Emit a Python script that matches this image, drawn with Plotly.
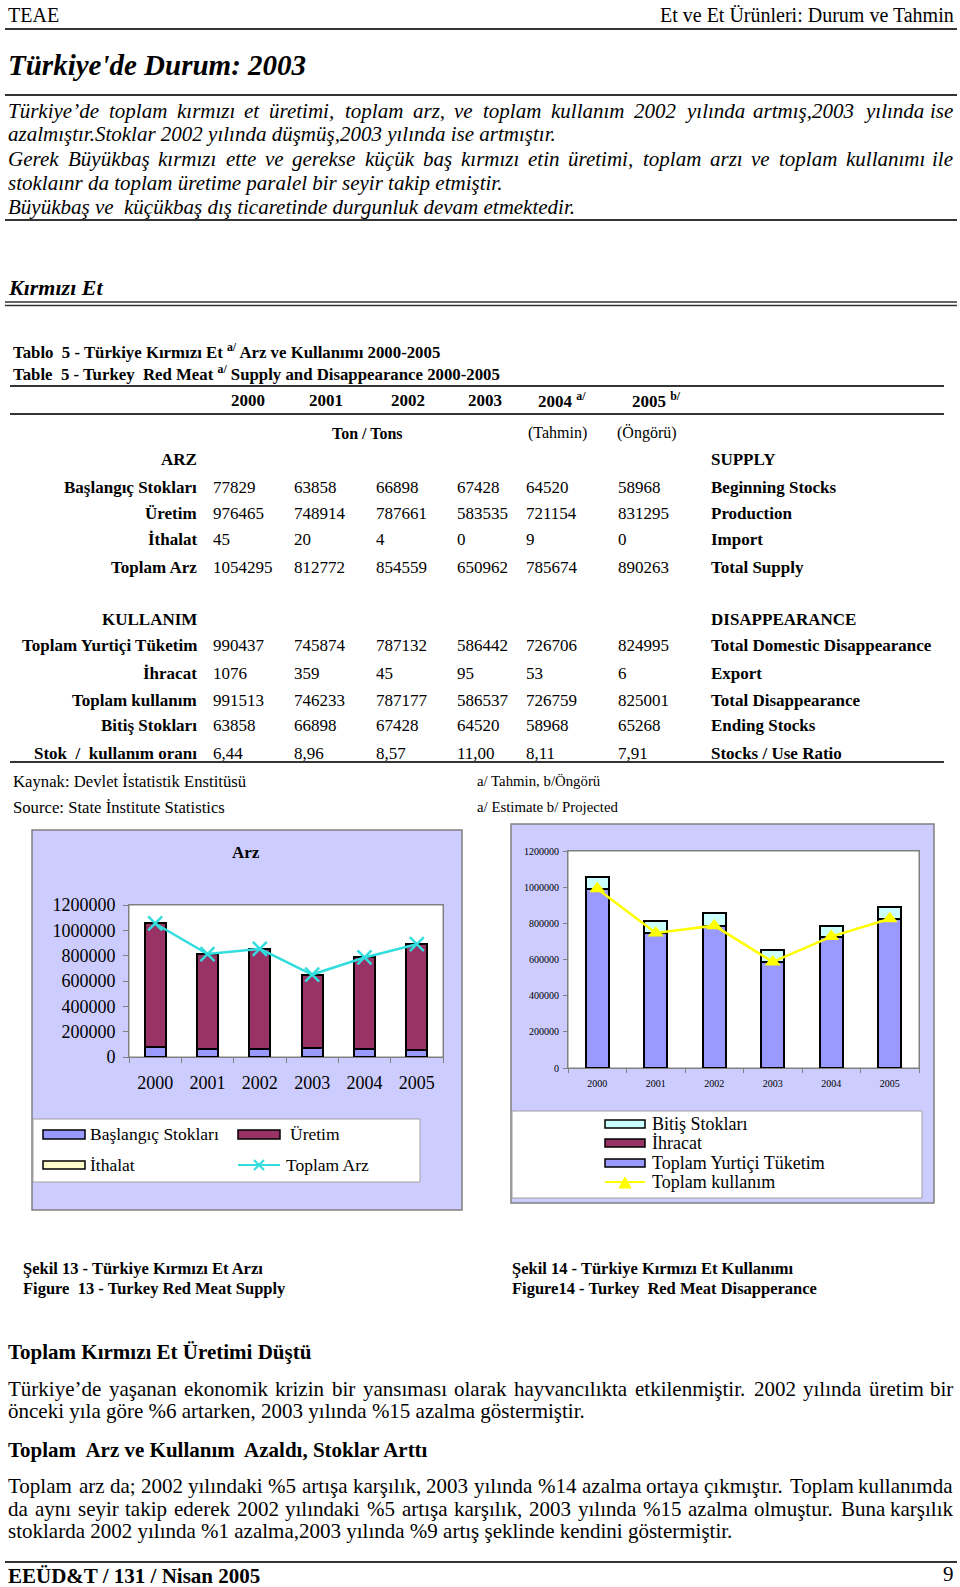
import plotly.graph_objects as go

W, H = 960, 1587
FONT = "Liberation Serif"

# ---------------- data ----------------
years = ["2000", "2001", "2002", "2003", "2004", "2005"]
baslangic = [77829, 63858, 66898, 67428, 64520, 58968]
uretim = [976465, 748914, 787661, 583535, 721154, 831295]
ithalat = [45, 20, 4, 0, 9, 0]
toplam_arz = [1054295, 812772, 854559, 650962, 785674, 890263]
yurtici = [990437, 745874, 787132, 586442, 726706, 824995]
ihracat = [1076, 359, 45, 95, 53, 6]
toplam_kullanim = [991513, 746233, 787177, 586537, 726759, 825001]
bitis = [63858, 66898, 67428, 64520, 58968, 65268]
oran = ["6,44", "8,96", "8,57", "11,00", "8,11", "7,91"]

C_LAV = "#9999FF"
C_MAR = "#993366"
C_YEL = "#FFFFCC"
C_CYN = "#CCFFFF"
C_BG = "#CCCCFF"
C_ARZ = "#33DDDD"
C_KUL = "#FFFF00"


def px(x):
    return x / W


def py(y):
    return 1 - y / H


fig = go.Figure()

bar_line = dict(color="black", width=2)
# Chart 1 (Arz)
fig.add_trace(go.Bar(x=years, y=baslangic, name="Başlangıç Stokları",
                     marker=dict(color=C_LAV, line=bar_line), xaxis="x", yaxis="y"))
fig.add_trace(go.Bar(x=years, y=uretim, name="Üretim",
                     marker=dict(color=C_MAR, line=bar_line), xaxis="x", yaxis="y"))
fig.add_trace(go.Bar(x=years, y=ithalat, name="İthalat",
                     marker=dict(color=C_YEL, line=bar_line), xaxis="x", yaxis="y"))
fig.add_trace(go.Scatter(x=years, y=toplam_arz, name="Toplam Arz", mode="lines+markers",
                         line=dict(color=C_ARZ, width=2.5),
                         marker=dict(symbol="x-thin", size=14, line=dict(color=C_ARZ, width=2.5)),
                         xaxis="x", yaxis="y"))
# Chart 2 (Kullanım)
fig.add_trace(go.Bar(x=years, y=yurtici, name="Toplam Yurtiçi Tüketim",
                     marker=dict(color=C_LAV, line=bar_line), xaxis="x2", yaxis="y2"))
fig.add_trace(go.Bar(x=years, y=ihracat, name="İhracat",
                     marker=dict(color=C_MAR, line=bar_line), xaxis="x2", yaxis="y2"))
fig.add_trace(go.Bar(x=years, y=bitis, name="Bitiş Stokları",
                     marker=dict(color=C_CYN, line=bar_line), xaxis="x2", yaxis="y2"))
fig.add_trace(go.Scatter(x=years, y=toplam_kullanim, name="Toplam kullanım", mode="lines+markers",
                         line=dict(color=C_KUL, width=2.5),
                         marker=dict(symbol="triangle-up", size=14, color=C_KUL),
                         xaxis="x2", yaxis="y2"))

ann = []
shapes = []


def T(x, y, s, size=17, b=False, i=False, anchor="left"):
    if b:
        s = "<b>" + s + "</b>"
    if i:
        s = "<i>" + s + "</i>"
    ann.append(dict(x=px(x), y=py(y), xref="paper", yref="paper", text=s, showarrow=False,
                    xanchor=anchor, yanchor="middle", borderpad=0,
                    font=dict(family=FONT, size=size, color="black")))


# approximate Times glyph widths (per 1000 em) used to spread words on justified lines
ROMAN = {" ": 250, "a": 444, "b": 500, "c": 444, "d": 500, "e": 444, "f": 333, "g": 500,
         "h": 500, "i": 278, "j": 278, "k": 500, "l": 278, "m": 778, "n": 500, "o": 500,
         "p": 500, "q": 500, "r": 333, "s": 389, "t": 278, "u": 500, "v": 500, "w": 722,
         "x": 500, "y": 500, "z": 444, "ı": 278, "ş": 389, "ç": 444, "ğ": 500, "ü": 500,
         "ö": 500, "A": 722, "B": 667, "G": 722, "T": 611, "K": 722, "İ": 333, "Ü": 722,
         ".": 250, ",": 250, ";": 278, ":": 278, "%": 833, "’": 333, "'": 180}
ITALIC = {" ": 250, "a": 500, "b": 500, "c": 444, "d": 500, "e": 444, "f": 278, "g": 500,
          "h": 500, "i": 278, "j": 278, "k": 444, "l": 278, "m": 722, "n": 500, "o": 500,
          "p": 500, "q": 500, "r": 389, "s": 389, "t": 278, "u": 500, "v": 444, "w": 667,
          "x": 444, "y": 444, "z": 389, "ı": 278, "ş": 389, "ç": 444, "ğ": 500, "ü": 500,
          "ö": 500, "G": 722, "B": 611, "T": 556, "K": 667, ".": 250, ",": 250, "’": 333,
          "'": 214}


def wid(word, size, table):
    return sum(table.get(ch, 500) for ch in word) * size / 1000.0


def J(x0, x1, y, s, size, i=False):
    table = ITALIC if i else ROMAN
    words = s.split()
    ws = [wid(w, size, table) for w in words]
    gap = (x1 - x0 - sum(ws)) / (len(words) - 1)
    x = x0
    for k, w in enumerate(words):
        if k == len(words) - 1:
            T(x1, y, w, size, i=i, anchor="right")
        else:
            T(x, y, w, size, i=i)
        x += ws[k] + gap


def L(x0, y0, x1, y1, w=2, c="#333333"):
    shapes.append(dict(type="line", xref="paper", yref="paper", x0=px(x0), y0=py(y0),
                       x1=px(x1), y1=py(y1), line=dict(color=c, width=w)))


def R(x0, y0, x1, y1, fill, lc="#808080", lw=1.5, layer="below"):
    shapes.append(dict(type="rect", xref="paper", yref="paper", x0=px(x0), y0=py(y0),
                       x1=px(x1), y1=py(y1), fillcolor=fill, line=dict(color=lc, width=lw),
                       layer=layer))


def P(path_pts, color, fill=None, w=2):
    d = "M " + " L ".join(f"{px(a)},{py(b)}" for a, b in path_pts)
    if fill:
        d += " Z"
    shapes.append(dict(type="path", xref="paper", yref="paper", path=d,
                       line=dict(color=color, width=w), fillcolor=fill if fill else None))


# ---------------- page header ----------------
T(7, 15, "TEAE", 20)
T(955, 15, "Et ve Et Ürünleri: Durum ve Tahmin", 20, anchor="right")
L(5, 29, 957, 29)
T(7, 65, "Türkiye'de Durum: 2003", 29, b=True, i=True)
L(5, 95, 957, 95)
J(7, 954, 111, "Türkiye’de toplam kırmızı et üretimi, toplam arz, ve toplam kullanım 2002 yılında artmış,2003 yılında ise", 21, i=True)
T(7, 134, "azalmıştır.Stoklar 2002 yılında düşmüş,2003 yılında ise artmıştır.", 21, i=True)
J(7, 954, 159, "Gerek Büyükbaş kırmızı ette ve gerekse küçük baş kırmızı etin üretimi, toplam arzı ve toplam kullanımı ile", 21, i=True)
T(7, 183, "stoklaınr da toplam üretime paralel bir seyir takip etmiştir.", 21, i=True)
T(7, 207, "Büyükbaş ve  küçükbaş dış ticaretinde durgunluk devam etmektedir.", 21, i=True)
L(5, 220, 957, 220)

T(7, 287, "Kırmızı Et", 22, b=True, i=True)
L(5, 302, 957, 302, w=1.5)
L(5, 305.5, 957, 305.5, w=1.5)

# ---------------- table ----------------
T(12, 351, "Tablo  5 - Türkiye Kırmızı Et <sup>a/</sup> Arz ve Kullanımı 2000-2005", 16.8, b=True)
T(12, 374, "Table  5 - Turkey  Red Meat <sup>a/</sup> Supply and Disappearance 2000-2005", 16.8, b=True)
L(10, 386, 944, 386)
year_x = [248, 326, 408, 485, 537, 631]
year_lbl = [years[0], years[1], years[2], years[3], years[4] + " <sup>a/</sup>", years[5] + " <sup>b/</sup>"]
for xx, yl in zip(year_x, year_lbl):
    T(xx, 400, yl, 17, b=True, anchor="center" if "sup" not in yl else "left")
L(10, 414, 944, 414)
T(367, 433, "Ton / Tons", 16, b=True, anchor="center")
T(557, 433, "(Tahmin)", 16, anchor="center")
T(647, 433, "(Öngörü)", 16, anchor="center")

col_x = [212, 293, 375, 456, 525, 617]
LBL_R = 198
ENG_X = 710


def row(y, tr, en, vals):
    T(LBL_R, y, tr, 17, b=True, anchor="right")
    T(ENG_X, y, en, 17, b=True)
    if vals is not None:
        for xx, v in zip(col_x, vals):
            T(xx, y, str(v), 17)


row(459, "ARZ", "SUPPLY", None)
row(487, "Başlangıç Stokları", "Beginning Stocks", baslangic)
row(513, "Üretim", "Production", uretim)
row(540, "İthalat", "Import", ithalat)
row(567, "Toplam Arz", "Total Supply", toplam_arz)
row(619, "KULLANIM", "DISAPPEARANCE", None)
row(646, "Toplam Yurtiçi Tüketim", "Total Domestic Disappearance", yurtici)
row(673, "İhracat", "Export", ihracat)
row(700, "Toplam kullanım", "Total Disappearance", toplam_kullanim)
row(726, "Bitiş Stokları", "Ending Stocks", bitis)
row(753, "Stok  /  kullanım oranı", "Stocks / Use Ratio", oran)
L(10, 762, 944, 762)
T(12, 781, "Kaynak: Devlet İstatistik Enstitüsü", 16.7)
T(12, 807, "Source: State İnstitute Statistics", 16.7)
T(476, 781, "a/ Tahmin, b/Öngörü", 14.8)
T(476, 807, "a/ Estimate b/ Projected", 14.8)

# ---------------- chart frames ----------------
R(32, 830, 462, 1210, C_BG)
R(129, 905, 443, 1057, "white", lc="#808080", lw=1)
R(33, 1119, 420, 1182, "white", lc="#A0A0A0", lw=1)
R(511, 824, 934, 1203, C_BG)
R(568, 851, 919, 1068, "white", lc="#808080", lw=1)
R(512, 1111, 922, 1198, "white", lc="#A0A0A0", lw=1)

T(246, 852, "Arz", 17, b=True, anchor="center")

# legend chart 1
R(43, 1130, 85, 1139, C_LAV, lc="black", lw=1.5, layer="above")
T(89, 1134, "Başlangıç Stokları", 17.5)
R(238, 1130, 280, 1139, C_MAR, lc="black", lw=1.5, layer="above")
T(289, 1134, "Üretim", 17.5)
R(43, 1161, 85, 1169, C_YEL, lc="black", lw=1.5, layer="above")
T(89, 1165, "İthalat", 17.5)
L(238, 1165, 280, 1165, w=2, c=C_ARZ)
L(254, 1160, 264, 1170, w=2, c=C_ARZ)
L(254, 1170, 264, 1160, w=2, c=C_ARZ)
T(285, 1165, "Toplam Arz", 17.5)

# legend chart 2
R(605, 1120, 645, 1128, C_CYN, lc="black", lw=1.5, layer="above")
T(651, 1124, "Bitiş Stokları", 18)
R(605, 1139, 645, 1147, C_MAR, lc="black", lw=1.5, layer="above")
T(651, 1143, "İhracat", 18)
R(605, 1159, 645, 1167, C_LAV, lc="black", lw=1.5, layer="above")
T(651, 1163, "Toplam Yurtiçi Tüketim", 18)
L(605, 1182, 645, 1182, w=2, c=C_KUL)
P([(619, 1188), (625, 1177), (631, 1188)], C_KUL, fill=C_KUL, w=1)
T(651, 1182, "Toplam kullanım", 18)

# captions
T(22, 1268, "Şekil 13 - Türkiye Kırmızı Et Arzı", 16.5, b=True)
T(22, 1288, "Figure  13 - Turkey Red Meat Supply", 16.5, b=True)
T(511, 1268, "Şekil 14 - Türkiye Kırmızı Et Kullanımı", 16.5, b=True)
T(511, 1288, "Figure14 - Turkey  Red Meat Disapperance", 16.5, b=True)

# ---------------- bottom text ----------------
T(7, 1352, "Toplam Kırmızı Et Üretimi Düştü", 21, b=True)
J(7, 954, 1389, "Türkiye’de yaşanan ekonomik krizin bir yansıması olarak hayvancılıkta etkilenmiştir. 2002 yılında üretim bir", 21)
T(7, 1411, "önceki yıla göre %6 artarken, 2003 yılında %15 azalma göstermiştir.", 21)
T(7, 1450, "Toplam  Arz ve Kullanım  Azaldı, Stoklar Arttı", 21, b=True)
J(7, 954, 1486, "Toplam arz da; 2002 yılındaki %5 artışa karşılık, 2003 yılında %14 azalma ortaya çıkmıştır. Toplam kullanımda", 21)
J(7, 954, 1509, "da aynı seyir takip ederek  2002 yılındaki %5 artışa karşılık, 2003 yılında %15 azalma olmuştur. Buna karşılık", 21)
T(7, 1531, "stoklarda 2002 yılında %1 azalma,2003 yılında %9 artış şeklinde kendini göstermiştir.", 21)
L(5, 1562, 957, 1562)
T(7, 1576, "EEÜD&T / 131 / Nisan 2005", 21, b=True)
T(955, 1574, "9", 21, anchor="right")

axis_common = dict(type="category", showline=True, linecolor="#808080", linewidth=1, mirror=True,
                   ticks="outside", tickson="boundaries", tickcolor="#808080", showgrid=False,
                   fixedrange=True, automargin=False)
yaxis_common = dict(range=[0, 1200000], dtick=200000, tickformat="d", showline=True,
                    linecolor="#808080", linewidth=1, mirror=True, ticks="outside",
                    tickcolor="#808080", showgrid=False, zeroline=False, fixedrange=True,
                    automargin=False)

fig.update_layout(
    width=W, height=H, autosize=False,
    margin=dict(l=0, r=0, t=0, b=0, pad=0, autoexpand=False),
    paper_bgcolor="white", plot_bgcolor="white",
    barmode="stack", bargap=0.6,
    showlegend=False,
    xaxis=dict(domain=[px(129), px(443)], anchor="y", ticklen=5, ticklabelstandoff=9,
               tickfont=dict(family=FONT, size=18, color="black"), **axis_common),
    yaxis=dict(domain=[py(1057), py(905)], anchor="x", ticklen=5, ticklabelstandoff=4,
               tickfont=dict(family=FONT, size=18, color="black"), **yaxis_common),
    xaxis2=dict(domain=[px(568), px(919)], anchor="y2", ticklen=4, ticklabelstandoff=6,
                tickfont=dict(family=FONT, size=10, color="black"), **axis_common),
    yaxis2=dict(domain=[py(1068), py(851)], anchor="x2", ticklen=4, ticklabelstandoff=2,
                tickfont=dict(family=FONT, size=10, color="black"), **yaxis_common),
    annotations=ann,
    shapes=shapes,
)

fig.write_html("out.html", config={"displayModeBar": False},
               post_script="document.body.style.margin='0px';document.body.style.overflow='hidden';")
